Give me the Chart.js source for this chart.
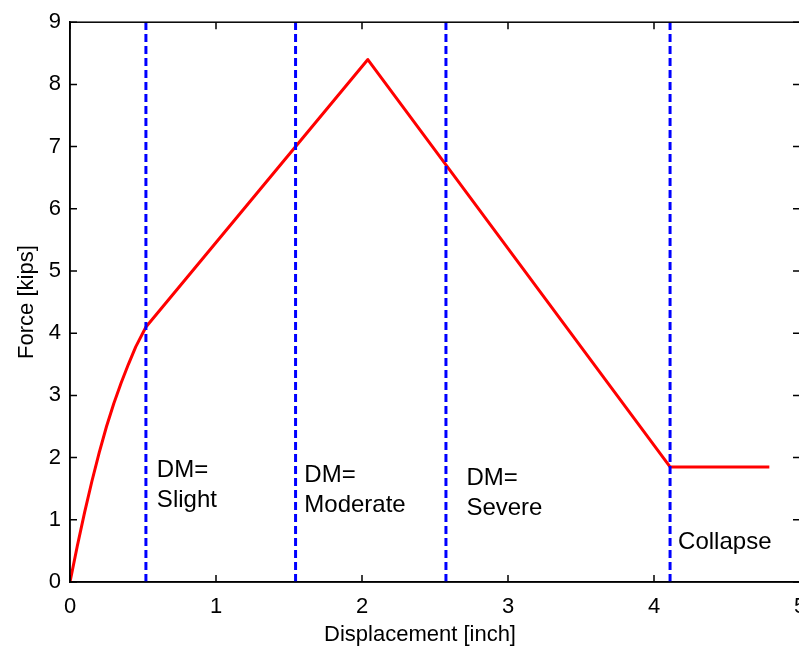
<!DOCTYPE html>
<html lang="en">
<head>
    <meta charset="UTF-8">
    <title>Force - Displacement</title>
    <script src="https://cdn.jsdelivr.net/npm/chart.js"></script>
    <style>
        html, body {
            margin: 0;
            padding: 0;
            background: white;
            overflow: hidden;
        }
        .wrap {
            position: relative;
            width: 820px;
            height: 651px;
        }
    </style>
</head>
<body>
    <div class="wrap">
        <canvas id="pushover"></canvas>
    </div>

    <script>
        // pushover curve (displacement in inch, force in kips)
        const dispX = [0, 0.05, 0.1, 0.15, 0.2, 0.25, 0.3, 0.35, 0.4, 0.45, 0.52, 2.04, 4.11, 4.79];
        const forceY = [0, 0.58, 1.12, 1.62, 2.08, 2.5, 2.87, 3.2, 3.5, 3.78, 4.1, 8.4, 1.85, 1.85];

        // damage-state limits
        const limitX = [0.52, 1.545, 2.575, 4.11];

        // state labels: text lines, anchor x / y in data units
        const stateText = [['DM=', 'Slight'], ['DM=', 'Moderate'], ['DM=', 'Severe'], ['Collapse']];
        const stateX = [0.595, 1.605, 2.715, 4.165];
        const stateY = [1.79, 1.71, 1.66, 0.64];

        const xTicks = [0, 1, 2, 3, 4, 5];
        const yTicks = [0, 1, 2, 3, 4, 5, 6, 7, 8, 9];
        const xTitle = 'Displacement [inch]';

        const FONT = '"Liberation Sans", Arial, sans-serif';

        const datasets = [{
            data: dispX.map((x, i) => ({ x: x, y: forceY[i] })),
            borderColor: '#ff0000',
            borderWidth: 3,
            borderJoinStyle: 'round',
            pointRadius: 0,
            tension: 0,
            order: 2
        }];
        limitX.forEach(x => {
            datasets.push({
                data: [{ x: x, y: 0 }, { x: x, y: 9 }],
                borderColor: '#0000ff',
                borderWidth: 3,
                borderDash: [8, 4],
                pointRadius: 0,
                order: 1
            });
        });

        // box around the plot, inward tick marks and the x title
        const frame = {
            id: 'frame',
            afterDraw(chart) {
                const { ctx, chartArea: a, scales } = chart;
                ctx.save();
                ctx.strokeStyle = '#000';
                ctx.lineWidth = 1.5;
                ctx.strokeRect(a.left, a.top, a.right - a.left, a.bottom - a.top);
                ctx.beginPath();
                xTicks.forEach(v => {
                    const px = scales.x.getPixelForValue(v);
                    ctx.moveTo(px, a.bottom); ctx.lineTo(px, a.bottom - 7);
                    ctx.moveTo(px, a.top); ctx.lineTo(px, a.top + 7);
                });
                yTicks.forEach(v => {
                    const py = scales.y.getPixelForValue(v);
                    ctx.moveTo(a.left, py); ctx.lineTo(a.left + 7, py);
                    ctx.moveTo(a.right, py); ctx.lineTo(a.right - 7, py);
                });
                ctx.stroke();

                ctx.fillStyle = '#000';
                ctx.font = '22px ' + FONT;
                ctx.textAlign = 'center';
                ctx.textBaseline = 'middle';
                ctx.fillText(xTitle, (a.left + a.right) / 2 - 15, a.bottom + 53);
                ctx.restore();
            }
        };

        const stateLabels = {
            id: 'stateLabels',
            afterDatasetsDraw(chart) {
                const { ctx, scales } = chart;
                ctx.save();
                ctx.fillStyle = '#000';
                ctx.font = '24px ' + FONT;
                ctx.textBaseline = 'middle';
                ctx.textAlign = 'left';
                stateText.forEach((lines, i) => {
                    const px = scales.x.getPixelForValue(stateX[i]);
                    const py = scales.y.getPixelForValue(stateY[i]);
                    lines.forEach((t, j) => ctx.fillText(t, px, py + j * 30));
                });
                ctx.restore();
            }
        };

        new Chart(document.getElementById('pushover'), {
            type: 'line',
            data: { datasets: datasets },
            options: {
                responsive: true,
                maintainAspectRatio: false,
                animation: false,
                layout: { padding: { left: 0, top: 13, right: 20, bottom: 0 } },
                plugins: {
                    legend: { display: false },
                    tooltip: { enabled: false }
                },
                scales: {
                    x: {
                        type: 'linear',
                        min: 0,
                        max: 5,
                        afterBuildTicks: s => { s.ticks = xTicks.map(v => ({ value: v })); },
                        afterFit: s => { s.height = 69; },
                        grid: { drawOnChartArea: false, drawTicks: false },
                        border: { color: '#000', width: 1.5 },
                        ticks: { color: '#000', padding: 12, font: { family: FONT, size: 22 } }
                    },
                    y: {
                        min: 0,
                        max: 9,
                        afterBuildTicks: s => { s.ticks = yTicks.map(v => ({ value: v })); },
                        afterFit: s => { s.width = 70; },
                        grid: { drawOnChartArea: false, drawTicks: false },
                        border: { color: '#000', width: 1.5 },
                        ticks: { color: '#000', padding: 9, font: { family: FONT, size: 22 } },
                        title: {
                            display: true,
                            text: 'Force [kips]',
                            color: '#000',
                            font: { family: FONT, size: 22 },
                            padding: { top: 14, bottom: 0 }
                        }
                    }
                }
            },
            plugins: [frame, stateLabels]
        });
    </script>
</body>
</html>
